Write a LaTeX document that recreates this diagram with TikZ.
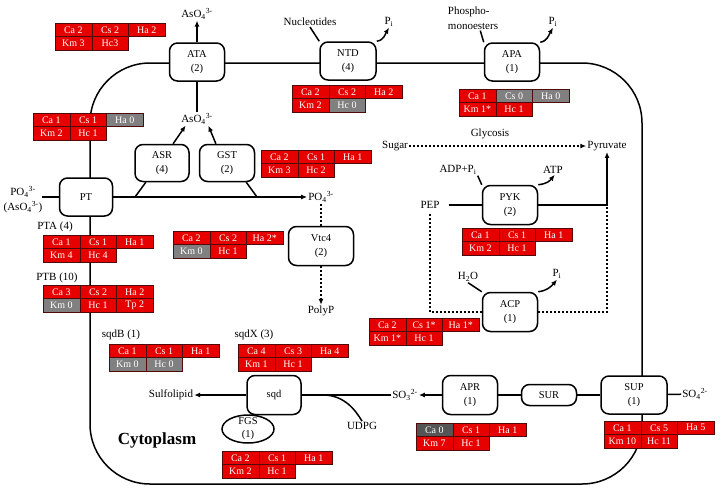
\documentclass[tikz,border=0pt]{standalone}
\usepackage{fontspec}
\setmainfont{Liberation Serif}
\usetikzlibrary{arrows.meta,shapes.geometric,backgrounds}

\definecolor{kred}{RGB}{230,0,0}
\definecolor{kgray}{RGB}{128,128,128}
\definecolor{kdark}{RGB}{85,85,85}
\definecolor{kline}{RGB}{80,10,10}

\tikzset{
  enzyme/.style={draw, line width=1.5pt, rounded corners=8pt, fill=white, minimum width=55pt, minimum height=38pt, align=center, inner sep=1pt, font=\fontsize{10.5}{13.5}\selectfont},
  lbl/.style={inner sep=1pt, font=\fontsize{11}{15}\selectfont},
  cell/.style={draw=kline, line width=0.4pt, fill=#1, text=white, minimum width=36.7pt, minimum height=13.5pt, inner sep=0pt, font=\fontsize{10}{10}\selectfont},
  flow/.style={line width=1.5pt},
  arr/.style={flow, -{Latex[length=6pt,width=5pt]}},
  dotflow/.style={line width=2pt, dash pattern=on 2pt off 2pt},
  darr/.style={dotflow, -{Latex[length=6pt,width=5pt]}}
}

\newcommand{\kinbox}[3]{%
  \begin{scope}[shift={(#2)}]
    \foreach \kc/\kr/\kf/\kt in {#3}
      \node[cell=\kf] (#1-\kc\kr) at (\kc*36.7+18.35,\kr*13.5+6.75) {\kt};
  \end{scope}}

\begin{document}
\begin{tikzpicture}[x=1pt,y=-1pt]
\useasboundingbox (0,0) rectangle (725,488);

\node[enzyme] (ata) at (197,62) {ATA\\(2)};
\node[enzyme, minimum width=56pt] (ntd) at (348,61) {NTD\\(4)};
\node[enzyme] (apa) at (512,62) {APA\\(1)};
\node[enzyme, minimum width=53pt] (pt) at (86,197) {PT};
\node[enzyme, minimum width=54pt, minimum height=37pt] (asr) at (162,163) {ASR\\(4)};
\node[enzyme, minimum height=37pt] (gst) at (227,163) {GST\\(2)};
\node[enzyme, minimum height=39pt] (pyk) at (510,205) {PYK\\(2)};
\node[enzyme, minimum height=39pt] (acp) at (510,312) {ACP\\(1)};
\node[enzyme, minimum width=65pt, minimum height=39pt] (vtc) at (321,246) {Vtc4\\(2)};
\node[draw, ellipse, line width=1.5pt, fill=white, minimum width=52pt, minimum height=28pt, inner sep=-2pt, align=center, font=\fontsize{10.5}{13}\selectfont] (fgs) at (248,429) {FGS\\(1)};
\node[enzyme, minimum width=54pt, minimum height=39pt] (sqd) at (274,395) {sqd};
\node[enzyme, minimum height=39pt] (apr) at (470,395) {APR\\(1)};
\node[enzyme, minimum height=21pt] (sur) at (549,395) {SUR};
\node[enzyme, minimum width=66pt] (sup) at (634,395) {SUP\\(1)};

\node[lbl] (astop) at (197,14) {AsO\textsubscript{4}\textsuperscript{3-}};
\node[lbl] (asmid) at (197,119) {AsO\textsubscript{4}\textsuperscript{3-}};
\node[lbl] (nucleo) at (310,22) {Nucleotides};
\node[lbl] (pintd) at (389,22) {P\textsubscript{i}};
\node[lbl, align=left] (phospho) at (473,18) {Phospho-\\monoesters};
\node[lbl] (piapa) at (553,22) {P\textsubscript{i}};
\node[lbl] (sugar) at (395,146) {Sugar};
\node[lbl] (glyco) at (490,134) {Glycosis};
\node[lbl] (pyr) at (607,146) {Pyruvate};
\node[lbl] (adp) at (458,170) {ADP+P\textsubscript{i}};
\node[lbl] (atp) at (553,170) {ATP};
\node[lbl] (pep) at (430,205) {PEP};
\node[lbl] (h2o) at (468,277) {H\textsubscript{2}O};
\node[lbl] (piacp) at (557,274) {P\textsubscript{i}};
\node[lbl, align=center] (po4in) at (23,200) {PO\textsubscript{4}\textsuperscript{3-}\\(AsO\textsubscript{4}\textsuperscript{3-})};
\node[lbl] (po4) at (321,197) {PO\textsubscript{4}\textsuperscript{3-}};
\node[lbl] (polyp) at (321,311) {PolyP};
\node[lbl] (pta) at (55,227) {PTA (4)};
\node[lbl] (ptb) at (57,278) {PTB (10)};
\node[lbl] (sqdb) at (121,335) {sqdB (1)};
\node[lbl] (sqdx) at (254,335) {sqdX (3)};
\node[lbl] (sulfo) at (171,395) {Sulfolipid};
\node[lbl] (so3) at (405,395) {SO\textsubscript{3}\textsuperscript{2-}};
\node[lbl] (udpg) at (362,426) {UDPG};
\node[lbl] (so4) at (695,394) {SO\textsubscript{4}\textsuperscript{2-}};
\node[font=\fontsize{17}{20}\selectfont\bfseries] (cyto) at (157,440) {Cytoplasm};

\coordinate (ptin) at (42,197);
\coordinate (asrleg) at (135,197);
\coordinate (gstleg) at (257,197);
\coordinate (pykturn) at (607,205);
\coordinate (pepturn) at (430,312);
\coordinate (acpturn) at (607,312);
\coordinate (udpgjoin) at (323,395);

\kinbox{ata}{55,23}{0/0/kred/Ca 2,1/0/kred/Cs 2,2/0/kred/Ha 2,0/1/kred/Km 3,1/1/kred/Hc3}
\kinbox{pt}{33,113}{0/0/kred/Ca 1,1/0/kred/Cs 1,2/0/kgray/Ha 0,0/1/kred/Km 2,1/1/kred/Hc 1}
\kinbox{ntd}{292,85}{0/0/kred/Ca 2,1/0/kred/Cs 2,2/0/kred/Ha 2,0/1/kred/Km 2,1/1/kgray/Hc 0}
\kinbox{apa}{459,89}{0/0/kred/Ca 1,1/0/kgray/Cs 0,2/0/kgray/Ha 0,0/1/kred/Km 1*,1/1/kred/Hc 1}
\kinbox{gst}{261,150}{0/0/kred/Ca 2,1/0/kred/Cs 1,2/0/kred/Ha 1,0/1/kred/Km 3,1/1/kred/Hc 2}
\kinbox{vtc}{173,231}{0/0/kred/Ca 2,1/0/kred/Cs 2,2/0/kred/Ha 2*,0/1/kgray/Km 0,1/1/kred/Hc 1}
\kinbox{pta}{43,235}{0/0/kred/Ca 1,1/0/kred/Cs 1,2/0/kred/Ha 1,0/1/kred/Km 4,1/1/kred/Hc 4}
\kinbox{ptb}{43,285}{0/0/kred/Ca 3,1/0/kred/Cs 2,2/0/kred/Ha 2,0/1/kgray/Km 0,1/1/kred/Hc 1,2/1/kred/Tp 2}
\kinbox{sqdb}{109,344}{0/0/kred/Ca 1,1/0/kred/Cs 1,2/0/kred/Ha 1,0/1/kgray/Km 0,1/1/kgray/Hc 0}
\kinbox{sqdx}{238,344}{0/0/kred/Ca 4,1/0/kred/Cs 3,2/0/kred/Ha 4,0/1/kred/Km 1,1/1/kred/Hc 1}
\kinbox{acp}{369,318}{0/0/kred/Ca 2,1/0/kred/Cs 1*,2/0/kred/Ha 1*,0/1/kred/Km 1*,1/1/kred/Hc 1}
\kinbox{pyk}{462,228}{0/0/kred/Ca 1,1/0/kred/Cs 1,2/0/kred/Ha 1,0/1/kred/Km 2,1/1/kred/Hc 1}
\kinbox{sqd}{222,451}{0/0/kred/Ca 2,1/0/kred/Cs 1,2/0/kred/Ha 1,0/1/kred/Km 2,1/1/kred/Hc 1}
\kinbox{apr}{416,423}{0/0/kdark/Ca 0,1/0/kred/Cs 1,2/0/kred/Ha 1,0/1/kred/Km 7,1/1/kred/Hc 1}
\kinbox{sup}{604,421}{0/0/kred/Ca 1,1/0/kred/Cs 5,2/0/kred/Ha 5,0/1/kred/Km 10,1/1/kred/Hc 11}

\begin{scope}[on background layer]
\draw[flow, rounded corners=60pt] (90,63) rectangle (642,484);
\draw[arr] (ata) -- (astop);
\draw[flow] (ata) -- (asmid);
\draw[arr] (asr.60) -- (asmid.210);
\draw[arr] (gst.120) -- (asmid.330);
\draw[flow] (asr.230) -- (asrleg);
\draw[flow] (gst.315) -- (gstleg);
\draw[flow] (ptin) -- (pt);
\draw[arr] (pt) -- (po4);
\draw[flow] (nucleo.south) -- (ntd.north west);
\draw[arr] (ntd.north east) .. controls +(7,-1) and +(-4,7) .. (pintd.south);
\draw[flow] (phospho.-60) -- (apa.north west);
\draw[arr] (apa.north east) .. controls +(7,-1) and +(-4,7) .. (piapa.south);
\draw[darr] (sugar) -- (pyr);
\draw[flow] ([xshift=8pt]pep.east) -- (pyk);
\draw[arr] (pyk) -- (pykturn) -- (pyr);
\draw[flow] (adp.south east) -- (pyk.north west);
\draw[arr] (pyk.north east) .. controls +(9,-1) and +(-5,6) .. (atp.-70);
\draw[dotflow] ([yshift=-4pt]pep.south) -- (pepturn) -- (acp);
\draw[dotflow] (acp) -- (acpturn) -- (pykturn);
\draw[flow] (h2o.south) -- (acp.north west);
\draw[arr] (acp.north east) .. controls +(9,-1) and +(-5,6) .. (piacp.south);
\draw[dotflow] (po4) -- (vtc);
\draw[darr] (vtc) -- (polyp);
\draw[arr] (sqd) -- (sulfo);
\draw[flow] (so3) -- (sqd);
\draw[flow] (udpgjoin) .. controls +(22,0) and +(-6,-10) .. (udpg.north);
\draw[arr] (apr) -- (so3);
\draw[flow] (apr) -- (sur);
\draw[flow] (sur) -- (sup);
\draw[flow] (sup) -- (so4);
\end{scope}
\end{tikzpicture}
\end{document}
